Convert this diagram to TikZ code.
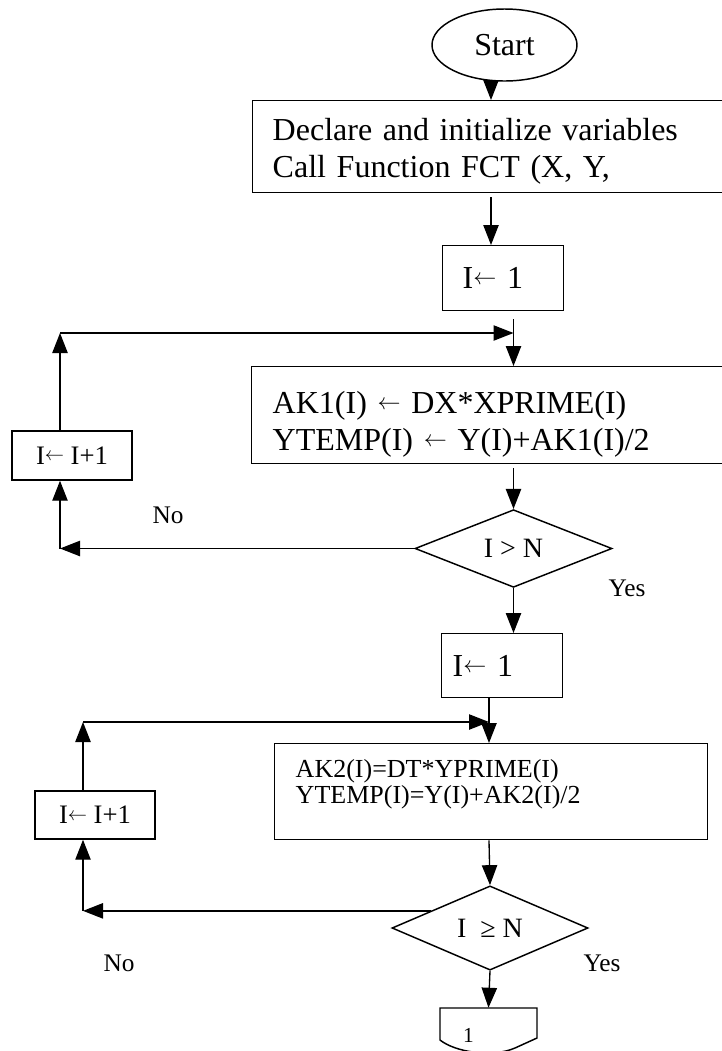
\documentclass[tikz,border=0pt]{standalone}
\usepackage{fontspec}
\setmainfont{Liberation Serif}
\usetikzlibrary{shapes.geometric,arrows.meta,calc}
\newcommand\myarrA{\raisebox{3.2pt}{\fontsize{17}{17}\selectfont$\leftarrow$}}
\newcommand\myarrB{\raisebox{2.7pt}{\fontsize{14.5}{14.5}\selectfont$\leftarrow$}}
\begin{document}
\begin{tikzpicture}[x=0.75pt,y=-0.75pt,
  arr/.style={draw, line width=1pt, -{Triangle[length=15pt,width=11.5pt]}},
  shp/.style={draw, line width=1.1pt, inner sep=0pt},
  bx/.style={shp, rectangle, align=left, anchor=north west},
  bigfont/.style={font=\fontsize{24}{27.75}\selectfont},
  lbl/.style={font=\fontsize{19}{22}\selectfont, inner sep=0pt},
]
\fill[white] (0,0) rectangle (722,1051);
\useasboundingbox (0,0) rectangle (722,1051);
\clip (0,0) rectangle (722,1051);

% helper coordinates
\coordinate (T1x) at (491,0);
\coordinate (S1x) at (513.5,0);
\coordinate (L1x) at (60,0);
\coordinate (L1top) at (60,333);
\coordinate (S2x) at (489,0);
\coordinate (L2x) at (83,0);
\coordinate (L2top) at (83,722);

% nodes
\node[shp, ellipse, minimum width=108.75pt, minimum height=54pt, bigfont] (start) at (504.5,45) {Start};

\node[bx, bigfont, minimum width=358.5pt, minimum height=69pt, text width=328.5pt, inner xsep=15pt] (decl) at (252,100)
  {\rule{0pt}{24pt}Declare and initialize variables\\Call Function FCT (X, Y,};

\node[bx, bigfont, minimum width=90.75pt, minimum height=48.75pt, text width=60.75pt, inner xsep=15pt] (init1) at (442,245) {I\myarrA\ 1};

\node[bx, bigfont, minimum width=359.25pt, minimum height=72.75pt, text width=327.75pt, inner xsep=15.75pt] (ak1) at (251,366)
  {\rule{0pt}{30.7pt}AK1(I) \myarrA\ DX*XPRIME(I)\\YTEMP(I) \myarrA\ Y(I)+AK1(I)/2};

\node[shp, diamond, minimum width=147.75pt, minimum height=54.75pt, font=\fontsize{21}{24}\selectfont] (d1) at (513.5,548.5) {I > N};

\node[lbl] (yes1) at (627,588) {Yes};
\node[lbl] (no1) at (168,515) {No};

\node[shp, rectangle, minimum width=90pt, minimum height=36.75pt, font=\fontsize{20}{24}\selectfont] (inc1) at (72,455.5) {I\myarrB\ I+1};

\node[bx, bigfont, minimum width=90.75pt, minimum height=48pt, text width=74.25pt, inner xsep=8.25pt] (init2) at (441,633) {I\myarrA\ 1};

\node[bx, font=\fontsize{19.5}{19.5}\selectfont, minimum width=324.75pt, minimum height=72pt, text width=293.25pt, inner xsep=15.75pt] (ak2) at (274,743)
  {AK2(I)=DT*YPRIME(I)\\YTEMP(I)=Y(I)+AK2(I)/2\rule[-15pt]{0pt}{15pt}};

\node[shp, diamond, minimum width=147pt, minimum height=59.25pt, font=\fontsize{21}{24}\selectfont] (d2) at (490,928) {I \ ≥ N};

\node[shp, rectangle, minimum width=90pt, minimum height=36pt, font=\fontsize{20}{24}\selectfont] (inc2) at (95,815) {I\myarrB\ I+1};

\node[lbl] (yes2) at (602,963) {Yes};
\node[lbl] (no2) at (119,963) {No};

\node[inner ysep=0pt, minimum width=72.75pt, minimum height=40.5pt, text width=38.25pt, inner xsep=17.25pt, align=left, font=\fontsize{16}{19}\selectfont] (conn) at (488.5,1035) {1};
\draw[line width=1.1pt] (440,1008) -- (537,1008) -- (537,1038) -- (515,1048) .. controls (492,1058) and (455,1052) .. (440,1040) -- cycle;

% main spine, part 1
\draw[arr] (start.south -| T1x) -- (decl.north -| T1x);
\draw[arr, shorten <=3pt] (decl.south -| T1x) -- (init1.north -| T1x);
\draw[arr, shorten <=6pt] (init1.south -| S1x) -- (ak1.north -| S1x);
\draw[arr, shorten <=3pt] (ak1.south -| S1x) -- (d1.north);
\draw[arr] (d1.south) -- (d1.south |- init2.north);

% loop 1
\draw[arr] (d1.west) -- (d1.west -| L1x);
\draw[arr] (d1.west -| L1x) -- (inc1.south -| L1x);
\draw[arr] (inc1.north -| L1x) -- (L1top);
\draw[arr] (L1top) -- (L1top -| S1x);

% main spine, part 2
\draw[arr] (init2.south -| S2x) -- (ak2.north -| S2x);
\draw[arr] (ak2.south -| S2x) -- (d2.north);
\draw[arr] (d2.south) -- (conn.north);

% loop 2
\coordinate (n2s) at ($(d2.west)!0.4!(d2.north)$);
\draw[arr] (n2s) -- (n2s -| L2x);
\draw[arr] (n2s -| L2x) -- (inc2.south -| L2x);
\draw[arr] (inc2.north -| L2x) -- (L2top);
\draw[arr] (L2top) -- (L2top -| S2x);
\end{tikzpicture}
\end{document}
